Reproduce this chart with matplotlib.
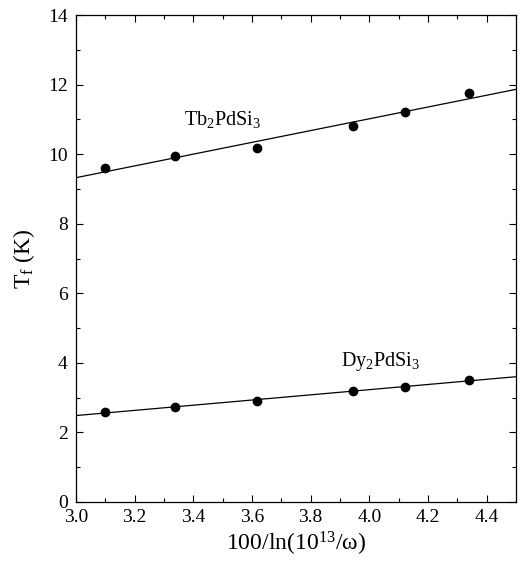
import numpy as np
import matplotlib
matplotlib.use("Agg")
import matplotlib.pyplot as plt
from matplotlib.ticker import MultipleLocator

plt.rcParams['font.family'] = ['Liberation Serif', 'DejaVu Serif']
plt.rcParams['mathtext.fontset'] = 'custom'
plt.rcParams['mathtext.rm'] = 'Liberation Serif'
plt.rcParams['mathtext.it'] = 'Liberation Serif:italic'

# Data
x_vals = [3.10, 3.337, 3.616, 3.943, 4.123, 4.341]
tb_vals = [9.60, 9.94, 10.18, 10.82, 11.20, 11.75]
dy_vals = [2.60, 2.72, 2.90, 3.18, 3.32, 3.51]
x_ticks = [3.0, 3.2, 3.4, 3.6, 3.8, 4.0, 4.2, 4.4]
y_ticks = [0, 2, 4, 6, 8, 10, 12, 14]

fig = plt.figure(figsize=(5.32, 5.70), dpi=100)
ax = fig.add_axes([76/532, 1 - 502/570, (516-76)/532, (502-15)/570])

xl = np.array([3.0, 4.5])
for yv in (tb_vals, dy_vals):
    p = np.polyfit(x_vals, yv, 1)
    ax.plot(xl, np.polyval(p, xl), color='black', lw=0.9)
    ax.plot(x_vals, yv, 'o', color='black', ms=6)

ax.text(3.5, 11.0, r'Tb$_2$PdSi$_3$', fontsize=14.5, ha='center', va='center')
ax.text(4.04, 4.03, r'Dy$_2$PdSi$_3$', fontsize=14.5, ha='center', va='center')

ax.set_xlim(3.0, 4.5)
ax.set_ylim(0, 14)
ax.set_xticks(x_ticks)
ax.set_yticks(y_ticks)
ax.set_xticklabels([f'{v:.1f}' for v in x_ticks])
ax.xaxis.set_minor_locator(MultipleLocator(0.1))
ax.yaxis.set_minor_locator(MultipleLocator(1))
ax.tick_params(which='both', direction='in', top=True, right=True, labelsize=14, width=0.8)
ax.tick_params(which='major', length=5)
ax.tick_params(which='minor', length=3)
ax.tick_params(axis='y', which='major', pad=6)
ax.tick_params(axis='x', which='major', pad=5)
for s in ax.spines.values():
    s.set_linewidth(0.9)

ax.set_xlabel(r'100/ln(10$^{13}$/ω)', fontsize=17, labelpad=3)
ax.set_ylabel(r'T$_{\rm f}$ (K)', fontsize=17, labelpad=8)

fig.savefig('out.png', dpi=100)
